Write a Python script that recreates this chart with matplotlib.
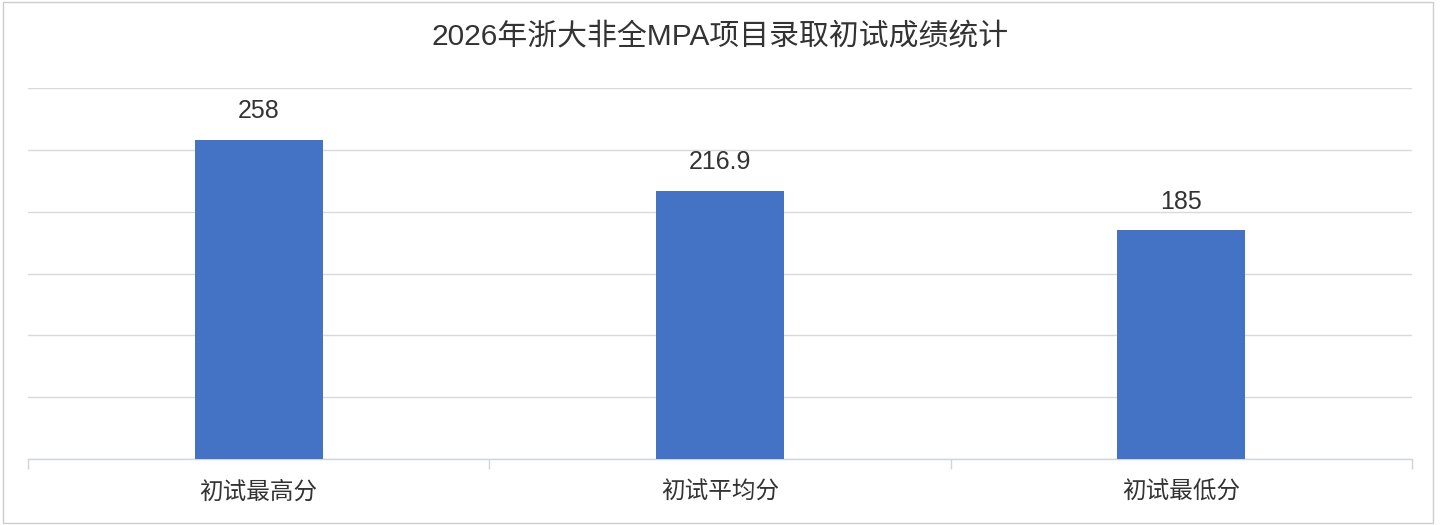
import matplotlib
matplotlib.use("Agg")
import matplotlib.pyplot as plt
from matplotlib.patches import Rectangle
from matplotlib.ticker import MultipleLocator

plt.rcParams['font.family'] = ['Liberation Sans', 'Noto Sans CJK SC', 'DejaVu Sans']

# data
title = "2026年浙大非全MPA项目录取初试成绩统计"
categories = ["初试最高分", "初试平均分", "初试最低分"]
scores = [258, 216.9, 185]
score_labels = ["258", "216.9", "185"]

bar_color = "#4472C4"
text_color = "#333333"
grid_color = "#D9D9D9"

fig = plt.figure(figsize=(14.4, 5.25), dpi=100)
ax = fig.add_axes([28 / 1440, 1 - 459 / 525, (1412 - 28) / 1440, (459 - 88) / 525])

x = list(range(len(categories)))
bars = ax.bar(x, scores, width=0.278, color=bar_color, zorder=3)

ax.set_xlim(-0.5, len(categories) - 0.5)
ax.yaxis.set_major_locator(MultipleLocator(50))
ax.set_ylim(0, 300)
ax.grid(axis='y', color=grid_color, linewidth=1, zorder=0)
ax.set_axisbelow(True)

for s in ['top', 'right', 'left']:
    ax.spines[s].set_visible(False)
ax.spines['bottom'].set_color('#D0D5DD')
ax.spines['bottom'].set_linewidth(1)

ax.tick_params(axis='y', left=False, labelleft=False)

# category labels centred, ticks at category boundaries
ax.set_xticks(x)
ax.set_xticklabels(categories, fontsize=17, color=text_color)
ax.tick_params(axis='x', which='major', length=0, pad=16)
ax.set_xticks([i - 0.5 for i in range(len(categories) + 1)], minor=True)
ax.tick_params(axis='x', which='minor', length=7, color='#D0D5DD', width=1)

for b, lab in zip(bars, score_labels):
    ax.annotate(lab, (b.get_x() + b.get_width() / 2, b.get_height()),
                xytext=(0, 12), textcoords='offset points',
                ha='center', va='bottom', fontsize=18, color=text_color)

fig.text(0.5, 1 - 37 / 525, title, ha='center', va='center',
         fontsize=21.5, color=text_color)

# light frame around the chart
fig.patches.append(Rectangle((3 / 1440, 2 / 525), 1430 / 1440, 521 / 525,
                             transform=fig.transFigure, fill=False,
                             edgecolor='#CCCCCC', linewidth=1))

fig.savefig("out.png", dpi=100)
